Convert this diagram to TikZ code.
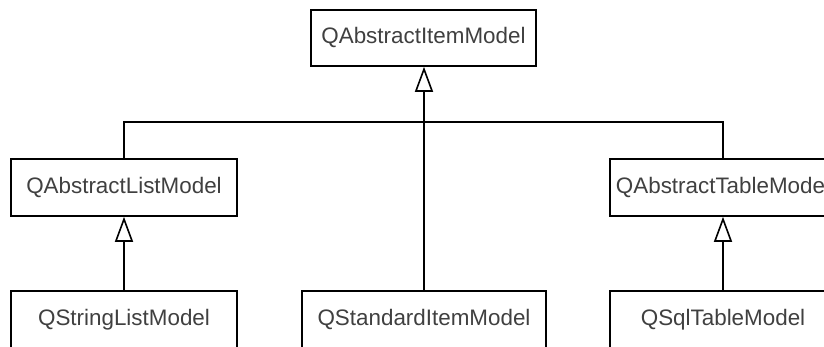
\documentclass[tikz,border=0pt]{standalone}
\usepackage{fontspec}
\setmainfont{Liberation Sans}
\usetikzlibrary{arrows.meta}
\definecolor{txt}{HTML}{404040}
\begin{document}
\begin{tikzpicture}[x=1pt,y=-1pt,
  cls/.style={draw=black, line width=1.6pt, fill=white, minimum height=57pt, inner sep=0pt,
    font=\fontsize{22.4pt}{26pt}\selectfont, text=txt},
  inh/.style={draw=black, line width=1.6pt},
  inharrow/.style={inh, -{Triangle[open, length=25pt, width=18pt, fill=white]}}]
\useasboundingbox (0,0) rectangle (824,347);
\clip (0,0) rectangle (824,347);
\node[cls, minimum width=225pt, minimum height=56pt] (aim) at (423.5,38) {QAbstractItemModel};
\node[cls, minimum width=226pt] (alm) at (124,187.5) {QAbstractListModel};
\node[cls, minimum width=226pt] (atm) at (723,187.5) {QAbstractTableModel};
\node[cls, minimum width=226pt] (slm) at (124,319.5) {QStringListModel};
\node[cls, minimum width=244pt] (sim) at (424,319.5) {QStandardItemModel};
\node[cls, minimum width=226pt] (sql) at (723,319.5) {QSqlTableModel};
\coordinate (j) at (424,122);
\draw[inh] (alm.north) |- (j);
\draw[inh] (atm.north) |- (j);
\draw[inharrow] (sim.north) -- (sim.north |- aim.south);
\draw[inharrow] (slm.north) -- (alm.south);
\draw[inharrow] (sql.north) -- (atm.south);
\end{tikzpicture}
\end{document}
